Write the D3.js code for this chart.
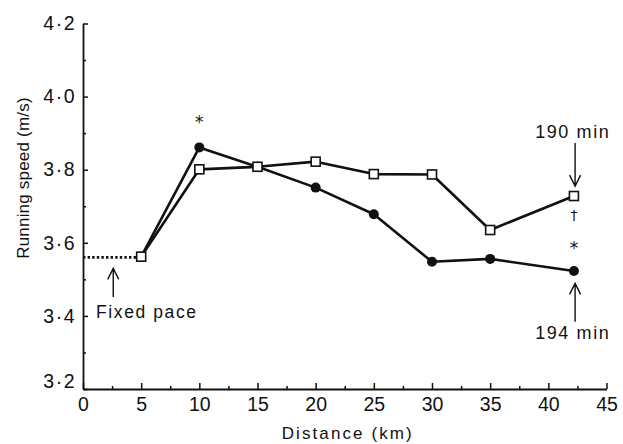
<!DOCTYPE html>
<html>
<head>
<meta charset="utf-8">
<script src="https://cdn.jsdelivr.net/npm/d3@7"></script>
<style>
  body { margin: 0; background: #fff; }
  text { font-family: "Liberation Sans", Arial, Helvetica, sans-serif; fill: #111; }
</style>
</head>
<body>
<div id="chart"></div>
<script>
// data
var distances = [5, 10, 15, 20, 25, 30, 35, 42.2];
var speed190 = [3.562, 3.801, 3.808, 3.822, 3.788, 3.787, 3.635, 3.728]; // open squares
var speed194 = [3.562, 3.861, 3.808, 3.751, 3.678, 3.548, 3.556, 3.523]; // filled circles
var fixedPaceKm = [0, 5];
var fixedPaceSpeed = [3.56, 3.56];
var xTickValues = [0, 5, 10, 15, 20, 25, 30, 35, 40, 45];
var yTickValues = [3.2, 3.4, 3.6, 3.8, 4.0, 4.2];

// annotations in data units (km, m/s)
var labels = [
  {text: "Fixed pace", x: 1.12, y: 3.394, anchor: "start", size: 17.5, spacing: 1.6},
  {text: "190 min", x: 42.1, y: 3.886, anchor: "middle", size: 18, spacing: 1.6},
  {text: "194 min", x: 42.1, y: 3.338, anchor: "middle", size: 18, spacing: 1.6}
];
var marks = [
  {text: "*", x: 10, y: 3.939, size: 17, dy: "0.55em"},
  {text: "*", x: 42.2, y: 3.596, size: 17, dy: "0.55em"},
  {text: "\u2020", x: 42.2, y: 3.675, size: 14, dy: "0.32em"}
];
var arrows = [
  {x: 2.6, from: 3.452, to: 3.530},
  {x: 42.3, from: 3.873, to: 3.755},
  {x: 42.3, from: 3.384, to: 3.489}
];

var margin = {top: 23.5, right: 16.5, bottom: 55, left: 83},
    width = 623 - margin.left - margin.right,
    height = 444 - margin.top - margin.bottom;

var svg = d3.select("#chart")
    .append("svg")
    .attr("width", 623)
    .attr("height", 444)
    .append("g")
    .attr("transform", `translate(${margin.left},${margin.top})`);

var x = d3.scaleLinear().domain([0, 45]).range([0, width]);
var y = d3.scaleLinear().domain([3.2, 4.2]).range([height, 0]);

// minor ticks first
svg.append("g")
    .attr("transform", `translate(0,${height})`)
    .call(d3.axisBottom(x).tickValues(d3.range(2.5, 45, 5)).tickSize(-3).tickSizeOuter(0).tickFormat(""))
    .call(g => g.select(".domain").remove());
svg.append("g")
    .call(d3.axisLeft(y).tickValues(d3.range(3.3, 4.2, 0.2)).tickSize(-3).tickSizeOuter(0).tickFormat(""))
    .call(g => g.select(".domain").remove());

var xAxis = svg.append("g")
    .attr("transform", `translate(0,${height})`)
    .call(d3.axisBottom(x).tickValues(xTickValues).tickSize(-6).tickSizeOuter(0).tickPadding(8));

var yAxis = svg.append("g")
    .call(d3.axisLeft(y).tickValues(yTickValues).tickSize(-5).tickSizeOuter(0).tickPadding(7)
        .tickFormat(d => d3.format(".1f")(d).replace(".", "\u00b7")));

svg.selectAll(".tick line").attr("stroke", "#111").attr("stroke-width", 1.5);
svg.selectAll(".domain").attr("stroke", "#111").attr("stroke-width", 1.8);
xAxis.selectAll("text").style("font-size", "19.5px").style("font-family", "Liberation Sans, Arial, sans-serif");
yAxis.selectAll("text").style("font-size", "19.5px").style("font-family", "Liberation Sans, Arial, sans-serif")
    .attr("letter-spacing", 1.5);
// bottom label sits a little higher to clear the x-axis zero
yAxis.selectAll(".tick").filter(d => d === 3.2).select("text").attr("dy", "-0.1em");

// axis titles
svg.append("text")
    .attr("x", width / 2 + 3)
    .attr("y", 439 - margin.top)
    .attr("text-anchor", "middle")
    .attr("letter-spacing", 2.1)
    .style("font-size", "17px")
    .text("Distance (km)");

svg.append("text")
    .attr("transform", `translate(${29 - margin.left},${178 - margin.top}) rotate(-90)`)
    .attr("text-anchor", "middle")
    .attr("letter-spacing", 0.2)
    .style("font-size", "17px")
    .text("Running speed (m/s)");

// fixed pace dotted line
svg.append("path")
    .datum(d3.zip(fixedPaceKm, fixedPaceSpeed))
    .attr("fill", "none")
    .attr("stroke", "#111")
    .attr("stroke-width", 2.6)
    .attr("stroke-dasharray", "2.4,2.2")
    .attr("d", d3.line().x(d => x(d[0])).y(d => y(d[1])));

var line = d3.line().x(d => x(d[0])).y(d => y(d[1]));
var data194 = d3.zip(distances, speed194);
var data190 = d3.zip(distances, speed190);

// 194 min: filled circles
svg.append("path")
    .datum(data194)
    .attr("fill", "none")
    .attr("stroke", "#111")
    .attr("stroke-width", 2.6)
    .attr("stroke-linejoin", "round")
    .attr("d", line);
svg.selectAll(".c194")
    .data(data194)
    .enter()
    .append("circle")
    .attr("class", "c194")
    .attr("cx", d => x(d[0]))
    .attr("cy", d => y(d[1]))
    .attr("r", 5)
    .attr("fill", "#111");

// 190 min: open squares
svg.append("path")
    .datum(data190)
    .attr("fill", "none")
    .attr("stroke", "#111")
    .attr("stroke-width", 2.6)
    .attr("stroke-linejoin", "round")
    .attr("d", line);
svg.selectAll(".s190")
    .data(data190)
    .enter()
    .append("rect")
    .attr("class", "s190")
    .attr("x", d => x(d[0]) - 4.5)
    .attr("y", d => y(d[1]) - 4.5)
    .attr("width", 9)
    .attr("height", 9)
    .attr("fill", "#fff")
    .attr("stroke", "#111")
    .attr("stroke-width", 1.6);

// arrows
arrows.forEach(function(a) {
    var px = x(a.x), y0 = y(a.from), y1 = y(a.to);
    var dir = y1 < y0 ? 1 : -1;
    svg.append("path")
        .attr("fill", "none")
        .attr("stroke", "#111")
        .attr("stroke-width", 1.4)
        .attr("d", `M${px},${y0}L${px},${y1}M${px - 5.5},${y1 + dir * 11}L${px},${y1}L${px + 5.5},${y1 + dir * 11}`);
});

svg.selectAll(".anno")
    .data(labels)
    .enter()
    .append("text")
    .attr("class", "anno")
    .attr("x", d => x(d.x))
    .attr("y", d => y(d.y))
    .attr("text-anchor", d => d.anchor)
    .attr("letter-spacing", d => d.spacing)
    .style("font-size", d => d.size + "px")
    .text(d => d.text);

svg.selectAll(".mark")
    .data(marks)
    .enter()
    .append("text")
    .attr("class", "mark")
    .attr("x", d => x(d.x))
    .attr("y", d => y(d.y))
    .attr("dy", d => d.dy)
    .attr("text-anchor", "middle")
    .style("font-family", "DejaVu Sans, sans-serif")
    .style("font-size", d => d.size + "px")
    .text(d => d.text);
</script>
</body>
</html>
